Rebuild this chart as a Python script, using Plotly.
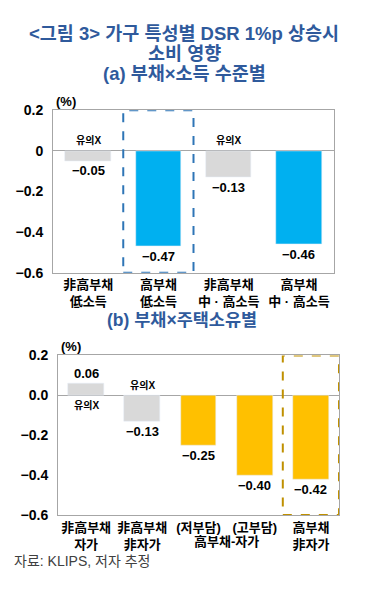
import plotly.graph_objects as go

# ---- data ----
cats_a = ["非高부채<br>低소득", "高부채<br>低소득", "非高부채<br>中 · 高소득", "高부채<br>中 · 高소득"]
vals_a = [-0.05, -0.47, -0.13, -0.46]
sig_a = [False, True, False, True]

cats_b = ["非高부채<br>자가", "非高부채<br>非자가", "(저부담)", "(고부담)", "高부채<br>非자가"]
group_b = "高부채-자가"
vals_b = [0.06, -0.13, -0.25, -0.40, -0.42]
sig_b = [False, False, True, True, True]

ticks_a = [0.2, 0, -0.2, -0.4, -0.6]
ticklabels_a = ["0.2", "0", "−0.2", "−0.4", "−0.6"]
ticks_b = [0.2, 0.0, -0.2, -0.4, -0.6]
ticklabels_b = ["0.2", "0.0", "−0.2", "−0.4", "−0.6"]

title_lines = ["&lt;그림 3&gt; 가구 특성별 DSR 1%p 상승시", "소비 영향", "(a) 부채×소득 수준별"]
title_b = "(b) 부채×주택소유별"
source = "자료: KLIPS, 저자 추정"
insig_label = "유의X"

W, H = 371, 598
FONT = "Liberation Sans, Arial, Noto Sans CJK KR, sans-serif"
TITLE_C = "#2F5A9C"
GRAY = "#D9D9D9"
BLUE = "#00B0F0"
GOLD = "#FFC000"
FRAME = "#A6A6A6"


def fmt(v):
    s = f"{abs(v):.2f}"
    return ("−" + s) if v < 0 else s


def px(x):
    return x / W


def py(y):
    return 1 - y / H


fig = go.Figure()

fig.add_trace(go.Bar(
    x=list(range(len(vals_a))), y=vals_a,
    marker_color=[BLUE if s else GRAY for s in sig_a],
    width=0.65, xaxis="x", yaxis="y", hoverinfo="skip",
))
fig.add_trace(go.Bar(
    x=list(range(len(vals_b))), y=vals_b,
    marker_color=[GOLD if s else GRAY for s in sig_b],
    width=0.64, xaxis="x2", yaxis="y2", hoverinfo="skip",
))

ann = []
lab_font = dict(family=FONT, size=13, color="#000000")
ins_font = dict(family=FONT, size=10, color="#000000")

for xref, yref, vals, sigs in (("x", "y", vals_a, sig_a), ("x2", "y2", vals_b, sig_b)):
    for i, (v, s) in enumerate(zip(vals, sigs)):
        sh = 10 if v > 0 else -10
        ann.append(dict(x=i, y=v, xref=xref, yref=yref, text=f"<b>{fmt(v)}</b>",
                        showarrow=False, yshift=sh, font=lab_font, yanchor="middle"))
        if not s:
            ann.append(dict(x=i, y=0, xref=xref, yref=yref, text=f"<b>{insig_label}</b>",
                            showarrow=False, yshift=-sh, font=ins_font, yanchor="middle"))

# (%) labels
for xr, yr in (("x domain", "y domain"), ("x2 domain", "y2 domain")):
    ann.append(dict(x=0.0, y=1.0, xref=xr, yref=yr, text="<b>(%)</b>", showarrow=False,
                    xanchor="left", yanchor="bottom", xshift=1, yshift=-1,
                    font=dict(family=FONT, size=13, color="#000000")))

# titles
tpos = [26, 47, 67]
for t, yy in zip(title_lines, tpos):
    ann.append(dict(x=px(184), y=py(yy), xref="paper", yref="paper", text=f"<b>{t}</b>",
                    showarrow=False, xanchor="center", yanchor="middle",
                    font=dict(family=FONT, size=18.5, color=TITLE_C)))
ann.append(dict(x=px(182), y=py(321), xref="paper", yref="paper", text=f"<b>{title_b}</b>",
                showarrow=False, xanchor="center", yanchor="middle",
                font=dict(family=FONT, size=17.5, color=TITLE_C)))

# group label under (저부담)/(고부담)
ann.append(dict(x=2.5, y=py(548), xref="x2", yref="paper", text=f"<b>{group_b}</b>",
                showarrow=False, xanchor="center", yanchor="middle",
                font=dict(family=FONT, size=13, color="#000000")))

# source
ann.append(dict(x=px(12), y=py(568), xref="paper", yref="paper", text=source,
                showarrow=False, xanchor="left", yanchor="middle",
                font=dict(family=FONT, size=14, color="#404040")))

shapes = [
    dict(type="rect", xref="x", yref="y", x0=0.5, x1=1.5, y0=-0.6, y1=0.2,
         line=dict(color="#2E75B6", width=2, dash="dash"), layer="above"),
    dict(type="rect", xref="x2", yref="y2", x0=3.5, x1=4.5, y0=-0.6, y1=0.2,
         line=dict(color="#BF9000", width=2, dash="dash"), layer="above"),
]

axis_common = dict(showgrid=False, showline=True, linecolor=FRAME, linewidth=1, mirror=True,
                   ticks="", fixedrange=True)
tickfont = dict(family=FONT, size=14, color="#000000")
xtickfont = dict(family=FONT, size=13, color="#000000")

fig.update_layout(
    width=W, height=H,
    margin=dict(l=0, r=0, t=0, b=0),
    paper_bgcolor="white", plot_bgcolor="white",
    showlegend=False,
    bargap=0,
    xaxis=dict(domain=[px(53), px(334)], range=[-0.5, 3.5], anchor="y",
               tickvals=list(range(len(cats_a))),
               ticktext=[f"<b>{c}</b>" for c in cats_a], tickfont=xtickfont,
               zeroline=False, **axis_common),
    yaxis=dict(domain=[py(272), py(105)], range=[-0.6, 0.2], anchor="x",
               tickvals=ticks_a, ticktext=[f"<b>{t}</b>" for t in ticklabels_a],
               tickfont=tickfont, ticklabelstandoff=6,
               zeroline=True, zerolinecolor=FRAME, zerolinewidth=1, **axis_common),
    xaxis2=dict(domain=[px(58), px(339)], range=[-0.5, 4.5], anchor="y2",
                tickvals=list(range(len(cats_b))),
                ticktext=[f"<b>{c}</b>" for c in cats_b], tickfont=xtickfont,
                zeroline=False, **axis_common),
    yaxis2=dict(domain=[py(521), py(357)], range=[-0.6, 0.2], anchor="x2",
                tickvals=ticks_b, ticktext=[f"<b>{t}</b>" for t in ticklabels_b],
                tickfont=tickfont, ticklabelstandoff=6,
                zeroline=True, zerolinecolor=FRAME, zerolinewidth=1, **axis_common),
    annotations=ann,
    shapes=shapes,
)

fig.write_html(
    "out.html",
    config={"displayModeBar": False},
    post_script="document.body.style.margin='0';document.body.style.overflow='hidden';",
)
